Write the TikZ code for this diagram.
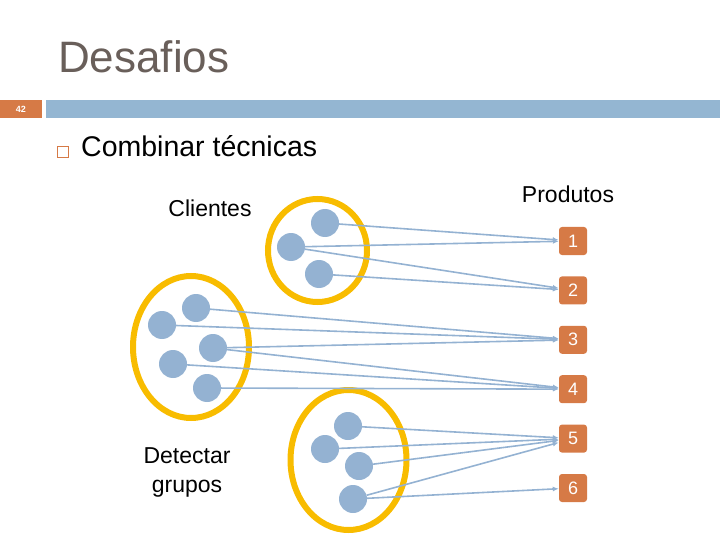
\documentclass[tikz,border=0pt]{standalone}
\usepackage{fontspec}
\setmainfont{Liberation Sans}
\usetikzlibrary{shapes.geometric, arrows.meta, positioning}
\definecolor{laranja}{RGB}{214,122,70}
\definecolor{azulbar}{RGB}{148,182,210}
\definecolor{azul}{RGB}{148,178,210}
\definecolor{amarelo}{RGB}{248,188,0}
\definecolor{cinza}{RGB}{105,95,90}

\begin{document}
\begin{tikzpicture}[x=1pt, y=-1pt, node distance = {49.4pt},
	grupo/.style = {draw=amarelo, ellipse, line width=6pt, inner sep=0pt},
	cliente/.style = {circle, fill=azul, minimum size=28pt, inner sep=0pt},
	produto/.style = {fill=laranja, rounded corners=3pt, minimum size=28pt, inner sep=0pt, text=white, font=\fontsize{18}{18}\selectfont},
	rotulo/.style = {font=\fontsize{23}{29}\selectfont, align=center, anchor=base},
	seta/.style = {draw=azul, line width=1.6pt, -{Latex[length=6pt, width=5pt]}}]
	\useasboundingbox (0,0) rectangle (720,540);
	% cabecalho
	\node[anchor=base west, text=cinza, font=\fontsize{44}{44}\selectfont, inner sep=0pt] (titulo) at (58,73) {Desafios};
	\fill[laranja] (0,100) rectangle (42,118);
	\fill[azulbar] (46,100) rectangle (720,118);
	\node[text=white, font=\fontsize{9}{9}\selectfont\bfseries] (pagina) at (21,109) {42};
	\draw[laranja, line width=1pt] (57.5,146.5) rectangle (68.5,157.5);
	\node[anchor=base west, font=\fontsize{28.5}{28.5}\selectfont, inner sep=0pt] (item) at (81,157) {Combinar técnicas};
	\node[rotulo] (clientes) at (210,216) {Clientes};
	\node[rotulo] (produtos) at (568,203) {Produtos};
	\node[rotulo] (detectar) at (187,492) {Detectar\\grupos};
	% grupos
	\node[grupo, minimum width=99pt, minimum height=103pt] (g1) at (317.5,250.5) {};
	\node[grupo, minimum width=116pt, minimum height=142pt] (g2) at (191,347) {};
	\node[grupo, minimum width=116pt, minimum height=140pt] (g3) at (348.5,460) {};
	% produtos
	\node[produto] (p1) at (573,241) {1};
	\node[produto] (p2) [below of=p1] {2};
	\node[produto] (p3) [below of=p2] {3};
	\node[produto] (p4) [below of=p3] {4};
	\node[produto] (p5) [below of=p4] {5};
	\node[produto] (p6) [below of=p5] {6};
	% clientes
	\node[cliente] (c1) at (325,223) {};
	\node[cliente] (c2) at (291,247) {};
	\node[cliente] (c3) at (319,274) {};
	\node[cliente] (c4) at (196,308) {};
	\node[cliente] (c5) at (162,325) {};
	\node[cliente] (c6) at (213,348) {};
	\node[cliente] (c7) at (173,364) {};
	\node[cliente] (c8) at (207,388) {};
	\node[cliente] (c9) at (348,426) {};
	\node[cliente] (c10) at (325,449) {};
	\node[cliente] (c11) at (359,466) {};
	\node[cliente] (c12) at (353,499) {};
	% ligacoes
	\draw[seta] (c1) -- (p1);
	\draw[seta] (c2) -- (p1);
	\draw[seta] (c2) -- (p2);
	\draw[seta] (c3) -- (p2);
	\draw[seta] (c4) -- (p3);
	\draw[seta] (c5) -- (p3);
	\draw[seta] (c6) -- (p3);
	\draw[seta] (c6) -- (p4);
	\draw[seta] (c7) -- (p4);
	\draw[seta] (c8) -- (p4);
	\draw[seta] (c9) -- (p5);
	\draw[seta] (c10) -- (p5);
	\draw[seta] (c11) -- (p5);
	\draw[seta] (c12) -- (p5);
	\draw[seta] (c12) -- (p6);
\end{tikzpicture}
\end{document}
